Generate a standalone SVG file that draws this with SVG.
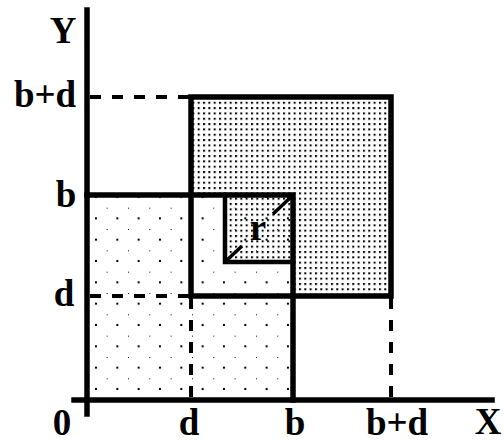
<svg xmlns="http://www.w3.org/2000/svg" width="504" height="443" viewBox="0 0 504 443">
<defs>
<pattern id="sparse" patternUnits="userSpaceOnUse" x="0" y="15.7" width="21.33" height="21.33">
<rect x="-1" y="-1" width="2" height="2" fill="#000"/>
<rect x="9.67" y="9.67" width="2" height="2" fill="#000"/>
</pattern>
<pattern id="dense" patternUnits="userSpaceOnUse" x="0.5" y="0.5" width="5.33" height="5.33">
<rect x="0" y="0" width="2" height="2" fill="#000"/>
</pattern>
<style>
.solid{stroke:#000;stroke-width:5.5;fill:none;stroke-linecap:square}
.thin{stroke:#000;stroke-width:4.5;fill:none;stroke-linecap:square}
.dash{stroke:#000;stroke-width:4;fill:none;stroke-dasharray:11 11}
.diag{stroke:#000;stroke-width:3.5;fill:none}
.lbl{font-family:"Liberation Serif","Times New Roman",serif;font-weight:bold;font-size:37px;fill:#000}
</style>
</defs>
<rect width="504" height="443" fill="#fff"/>
<g id="fills">
<rect x="87" y="195" width="206" height="205" fill="url(#sparse)"/>
<rect x="191" y="97" width="200" height="199" fill="url(#dense)"/>
<rect x="191" y="195" width="102" height="101" fill="#fff"/>
<rect x="191" y="195" width="102" height="101" fill="url(#sparse)"/>
<rect x="225" y="195" width="68" height="67" fill="url(#dense)"/>
</g>
<g id="connectors">
<line class="dash" x1="90" y1="97" x2="191" y2="97"/>
<line class="dash" x1="90" y1="296" x2="191" y2="296"/>
<line class="dash" x1="191" y1="298" x2="191" y2="400"/>
<line class="dash" x1="391" y1="298" x2="391" y2="400"/>
<line class="diag" x1="227" y1="260" x2="242" y2="246"/>
<line class="diag" x1="273" y1="214" x2="291" y2="197"/>
</g>
<g id="axes">
<line class="solid" x1="87" y1="10" x2="87" y2="414" stroke-linecap="round"/>
<line class="solid" x1="74" y1="400" x2="492" y2="400" stroke-linecap="round"/>
</g>
<g id="square-bd">
<rect class="solid" x="191" y="97" width="200" height="199"/>
</g>
<g id="square-b">
<polyline class="solid" points="87,195 293,195 293,400"/>
</g>
<g id="square-r">
<polyline class="thin" points="225,195 225,262 293,262"/>
</g>
<g id="labels">
<text class="lbl" x="63" y="43" text-anchor="middle" font-size="41">Y</text>
<text class="lbl" x="45" y="107" text-anchor="middle">b+d</text>
<text class="lbl" x="66" y="207" text-anchor="middle">b</text>
<text class="lbl" x="64" y="306" text-anchor="middle">d</text>
<text class="lbl" x="62" y="435" text-anchor="middle">0</text>
<text class="lbl" x="189" y="435" text-anchor="middle">d</text>
<text class="lbl" x="295" y="435" text-anchor="middle">b</text>
<text class="lbl" x="397" y="435" text-anchor="middle">b+d</text>
<text class="lbl" x="488" y="434" text-anchor="middle" font-size="38">X</text>
<text class="lbl" x="258" y="240" text-anchor="middle">r</text>
</g>
</svg>
